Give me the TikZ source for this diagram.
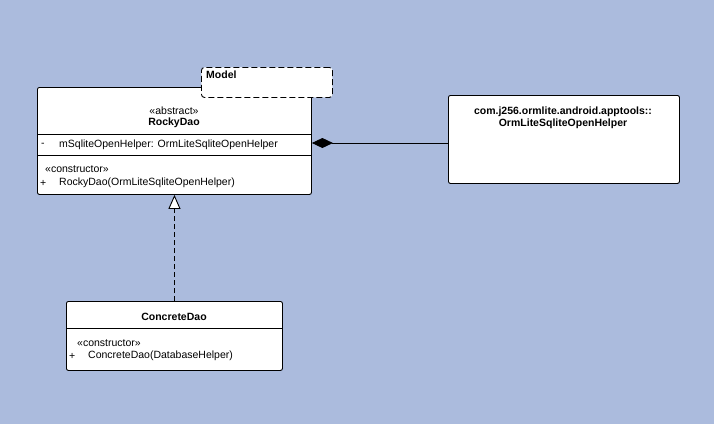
\documentclass[tikz,border=0pt]{standalone}
\usepackage{fontspec}
\setmainfont{Liberation Sans}
\usetikzlibrary{arrows.meta}
\definecolor{bg}{RGB}{171,187,221}
\begin{document}
\begin{tikzpicture}[x=1pt,y=-1pt,
  classbox/.style={draw=black, line width=0.9pt, fill=white, rounded corners=2pt, inner sep=0pt},
  txt/.style={inner sep=0pt, font=\fontsize{10.5}{12}\selectfont},
  btxt/.style={inner sep=0pt, font=\fontsize{10.5}{12}\selectfont\bfseries},
  sep/.style={draw=black, line width=0.9pt},
  comp/.style={draw=black, line width=0.9pt, {Diamond[length=21pt,width=10pt,fill=black]}-},
  real/.style={draw=black, line width=0.9pt, dash pattern=on 5pt off 3pt, -{Triangle[open,length=14pt,width=12pt,fill=white]}}
]
\fill[bg] (0,0) rectangle (714,424);
\useasboundingbox (0,0) rectangle (714,424);

% RockyDao
\node[classbox, minimum width=274pt, minimum height=107pt, anchor=north west] (rocky) at (37,87) {};
\node[txt] (rst) at (174,111) {«abstract»};
\node[btxt] (rname) at (174,123) {RockyDao};
\draw[sep] (rocky.west |- 0,134) -- (rocky.east |- 0,134);
\node[txt, anchor=west] (rminus) at (41,145) {-};
\node[txt, anchor=west] (rattr) at (59,145) {mSqliteOpenHelper: OrmLiteSqliteOpenHelper};
\draw[sep] (rocky.west |- 0,155) -- (rocky.east |- 0,155);
\node[txt, anchor=west] (rcst) at (45,169) {«constructor»};
\node[txt, anchor=west] (rplus) at (40,183) {+};
\node[txt, anchor=west] (rop) at (59,183) {RockyDao(OrmLiteSqliteOpenHelper)};

% Model tab
\node[draw=black, line width=0.9pt, dash pattern=on 6pt off 3pt, fill=white, rounded corners=3pt,
  minimum width=131pt, minimum height=30pt, anchor=north west] (model) at (201,67) {};
\node[btxt, anchor=north west] (mname) at (206,71) {Model};

% Helper
\node[classbox, minimum width=231pt, minimum height=88pt, anchor=north west] (helper) at (448,95) {};
\node[btxt] (h1) at (563,112) {com.j256.ormlite.android.apptools::};
\node[btxt] (h2) at (563,124) {OrmLiteSqliteOpenHelper};

% ConcreteDao
\node[classbox, minimum width=216pt, minimum height=69pt, anchor=north west] (concrete) at (66,301) {};
\node[btxt] (cname) at (174,317) {ConcreteDao};
\draw[sep] (concrete.west |- 0,328) -- (concrete.east |- 0,328);
\node[txt, anchor=west] (ccst) at (77,343) {«constructor»};
\node[txt, anchor=west] (cplus) at (69,356) {+};
\node[txt, anchor=west] (cop) at (88,356) {ConcreteDao(DatabaseHelper)};

% connectors
\coordinate (cj) at (311,143);
\draw[comp] (rocky.east |- cj) -- (helper.west |- cj);
\draw[real] (concrete.north) -- (rocky.south);
\end{tikzpicture}
\end{document}
